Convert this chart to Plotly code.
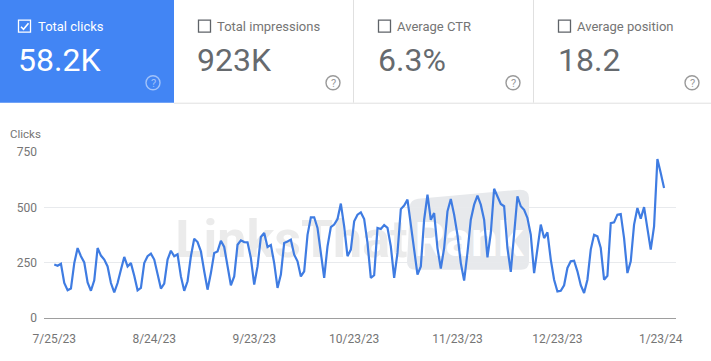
import pandas as pd
import plotly.graph_objects as go

# ---- data ----
START_DATE = "2023-07-25"
clicks = [
    242, 236, 245, 158, 125, 133, 248, 316, 279, 251, 161, 123, 170, 316, 282, 264, 233, 158, 116, 158,
    218, 276, 233, 248, 191, 125, 136, 248, 279, 291, 264, 196, 133, 155, 264, 304, 279, 288, 188, 123,
    166, 279, 358, 343, 301, 211, 128, 203, 294, 301, 349, 321, 241, 148, 188, 331, 351, 343, 342, 271,
    151, 233, 366, 384, 321, 330, 248, 136, 196, 339, 346, 354, 286, 256, 188, 211, 376, 455, 455, 407,
    294, 181, 324, 411, 422, 447, 517, 414, 279, 309, 437, 467, 477, 447, 339, 181, 193, 407, 402, 420,
    407, 324, 181, 294, 492, 508, 535, 429, 324, 196, 233, 444, 557, 444, 474, 316, 223, 316, 482, 538,
    467, 376, 248, 169, 294, 444, 512, 553, 512, 444, 274, 384, 584, 553, 515, 505, 316, 208, 376, 550,
    505, 489, 452, 376, 203, 309, 422, 361, 387, 264, 173, 120, 123, 148, 226, 256, 259, 211, 148, 113,
    173, 309, 376, 369, 316, 173, 191, 429, 432, 467, 470, 361, 203, 256, 422, 497, 449, 501, 414, 309,
    414, 718, 655, 587,
]
dates = pd.date_range(START_DATE, periods=len(clicks), freq="D")
tick_dates = ["2023-07-25", "2023-08-24", "2023-09-23", "2023-10-23", "2023-11-23", "2023-12-23", "2024-01-23"]
tick_labels = ["7/25/23", "8/24/23", "9/23/23", "10/23/23", "11/23/23", "12/23/23", "1/23/24"]
y_ticks = [0, 250, 500, 750]
card_titles = ["Total clicks", "Total impressions", "Average CTR", "Average position"]
card_values = ["58.2K", "923K", "6.3%", "18.2"]

# ---- layout (pixels) ----
W, H = 711, 361
L, R, T, B = 44, 676, 152.3, 318.3
FONT = "Roboto"
BLUE = "#4285f4"
GRAY = "#666a6e"
AXIS_TEXT = "#757575"
LINE = "#3f7ce2"

def px(x):
    return (x - L) / (R - L)

def py(y):
    return (B - y) / (B - T)

def rect(x0, y0, x1, y1, **kw):
    return dict(type="rect", xref="paper", yref="paper",
                x0=px(x0), x1=px(x1), y0=py(y1), y1=py(y0), **kw)

def path(points_fmt, **kw):
    return dict(type="path", xref="paper", yref="paper", path=points_fmt, **kw)

def text(x, y, s, size, color, xanchor="left", **kw):
    return dict(xref="paper", yref="paper", x=px(x), y=py(y), text=s, showarrow=False,
                xanchor=xanchor, yanchor="middle", borderpad=0,
                font=dict(family=FONT, size=size, color=color), **kw)

shapes = []
annotations = []

# watermark (below the line)
shapes.append(rect(178, 214, 405, 258, line_width=0, fillcolor="rgba(0,0,0,0)", layer="below",
                   label=dict(text="<b>LinksThat</b>", font=dict(family="Roboto", size=52, color="#ebebeb"),
                              textposition="middle center")))
wm = (f"M {px(418)} {py(199)} L {px(520)} {py(190)} Q {px(529)} {py(190)} {px(529)} {py(198)} "
      f"L {px(529)} {py(262)} Q {px(529)} {py(270)} {px(521)} {py(270)} L {px(416)} {py(270)} "
      f"Q {px(407)} {py(270)} {px(407)} {py(262)} L {px(410)} {py(207)} Q {px(410)} {py(200)} {px(418)} {py(199)} Z")
shapes.append(path(wm, line_width=0, fillcolor="#e7e9ec", layer="below"))
shapes.append(rect(410, 212, 528, 262, line_width=0, fillcolor="rgba(0,0,0,0)", layer="below",
                   label=dict(text="<b>Rank</b>", font=dict(family="Roboto", size=48, color="#ffffff"),
                              textposition="middle center")))

# cards
shapes.append(rect(0, 0, 174, 103, line_width=0, fillcolor=BLUE, layer="below"))
shapes.append(dict(type="line", xref="paper", yref="paper", x0=px(174), x1=px(711), y0=py(103.5), y1=py(103.5),
                   line=dict(color="#e0e0e0", width=1)))
for xd in (353.5, 533.5):
    shapes.append(dict(type="line", xref="paper", yref="paper", x0=px(xd), x1=px(xd), y0=py(0), y1=py(103),
                       line=dict(color="#e0e0e0", width=1)))

box_x = [18, 198, 378, 558]
title_x = [37, 216, 396, 576]
value_x = [18, 197, 378, 558]
help_x = [153, 333, 513, 692]
for i, (title, value) in enumerate(zip(card_titles, card_values)):
    active = i == 0
    fg = "#ffffff" if active else GRAY
    box_col = "#ffffff" if active else "#5f6368"
    help_col = "rgba(255,255,255,0.5)" if active else "#9a9a9a"
    shapes.append(rect(box_x[i] + .5, 20.5, box_x[i] + 12.5, 32.5, line=dict(color=box_col, width=1.3)))
    annotations.append(text(title_x[i], 27, title, 13, "#ffffff" if active else "#757575"))
    annotations.append(text(value_x[i] - 1, 60.5, value, 32, fg))
    shapes.append(dict(type="circle", xref="paper", yref="paper",
                       x0=px(help_x[i] - 7), x1=px(help_x[i] + 7), y0=py(90), y1=py(76),
                       line=dict(color=help_col, width=1.4)))
    annotations.append(text(help_x[i], 83.5, "?", 11, help_col, xanchor="center"))

# check mark
cm = f"M {px(21)} {py(27)} L {px(23.5)} {py(29.5)} L {px(28.5)} {py(23.5)}"
shapes.append(path(cm, line=dict(color="#ffffff", width=1.6)))

annotations.append(text(9, 134.5, "Clicks", 11.5, AXIS_TEXT))

fig = go.Figure(go.Scatter(
    x=dates, y=clicks, mode="lines", line=dict(color=LINE, width=2.2), hoverinfo="skip", showlegend=False,
))
fig.update_layout(
    width=W, height=H, paper_bgcolor="white", plot_bgcolor="rgba(0,0,0,0)",
    margin=dict(l=L, r=W - R, t=T, b=H - B, pad=0), showlegend=False,
    shapes=shapes, annotations=annotations,
    font=dict(family=FONT, size=12, color=AXIS_TEXT),
)
fig.update_xaxes(range=["2023-07-21 22:00", "2024-01-27 14:00"], tickmode="array",
                 tickvals=tick_dates, ticktext=tick_labels, showgrid=False, zeroline=False,
                 showline=False, ticks="", tickfont=dict(size=12, color=AXIS_TEXT), ticklabelstandoff=12)
fig.update_yaxes(range=[0, 750], tickmode="array", tickvals=y_ticks, ticktext=[str(v) for v in y_ticks],
                 showgrid=True, gridcolor="#e8eaed", gridwidth=1, zeroline=True, zerolinecolor="#9e9e9e",
                 zerolinewidth=1, showline=False, ticks="", tickfont=dict(size=12, color=AXIS_TEXT),
                 ticklabelstandoff=6)

fig.write_html("out.html", config=dict(displayModeBar=False),
               post_script="document.body.style.margin='0';document.body.style.overflow='hidden';")
